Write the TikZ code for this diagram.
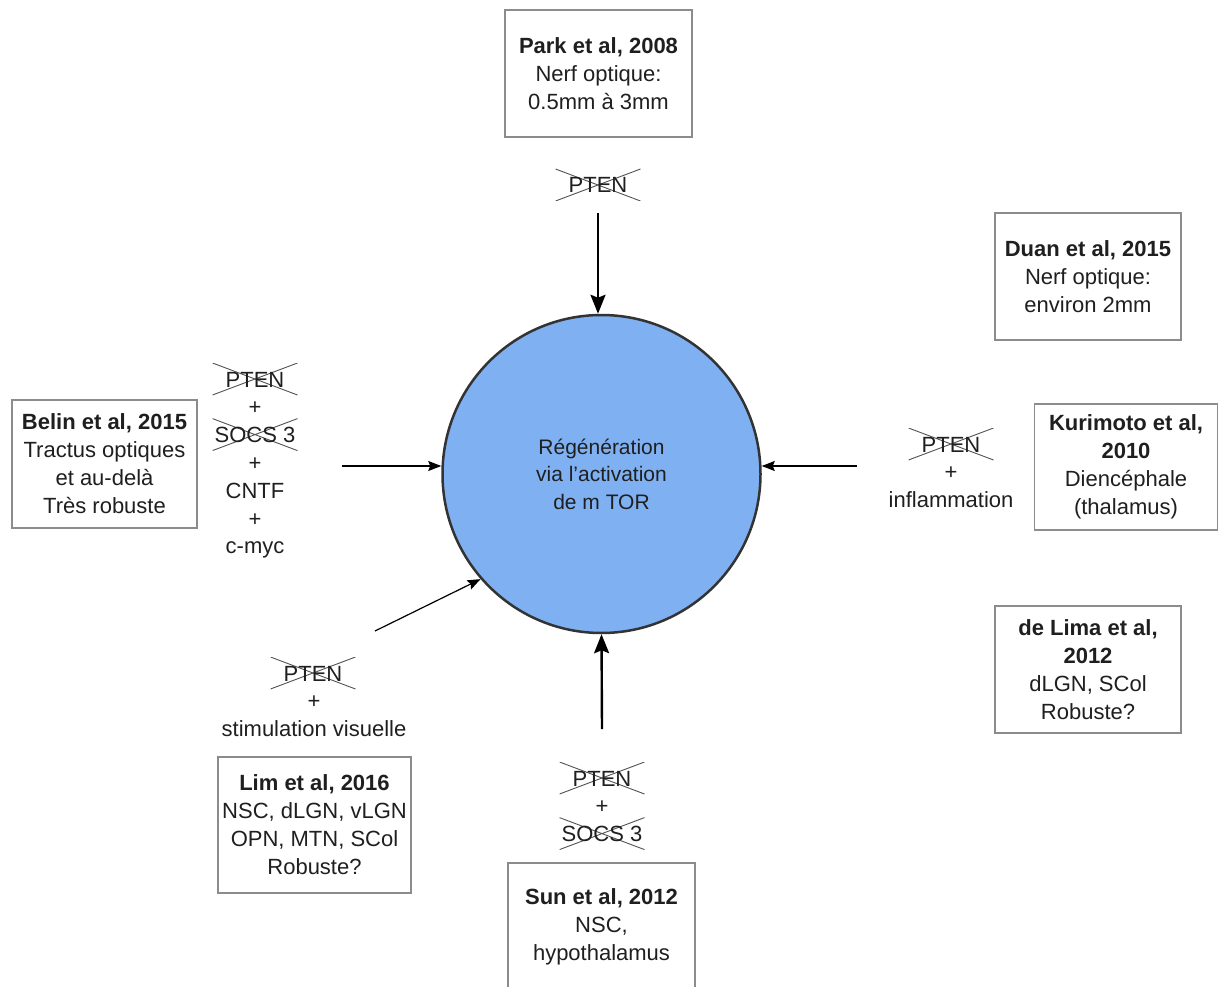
\documentclass[tikz,border=0pt]{standalone}
\usepackage{fontspec}
\setmainfont{Liberation Sans}
\usetikzlibrary{arrows.meta}
\usetikzlibrary{positioning}
\definecolor{mtorblue}{HTML}{7FB1F2}
\definecolor{boxgray}{HTML}{8C8C8C}
\definecolor{rimgray}{HTML}{333333}
\definecolor{inkgray}{HTML}{1F1F1F}

\tikzset{
  ref/.style={draw=boxgray, line width=1.5, fill=white, align=center, inner sep=0,
    text=inkgray, font=\fontsize{22}{28}\selectfont},
  lbl/.style={inner sep=0, text=inkgray, font=\fontsize{22}{28}\selectfont,
    text height=16pt, text depth=0pt},
  crossed/.style={lbl, minimum width=85, minimum height=32,
    path picture={\draw[rimgray!85, line width=0.9]
      (path picture bounding box.south west) -- (path picture bounding box.north east)
      (path picture bounding box.north west) -- (path picture bounding box.south east);}},
  bigarrow/.style={-{Stealth[length=19, width=15, inset=3]}, line width=2.4},
  smallarrow/.style={-{Stealth[length=13, width=10, inset=2]}, line width=1.2},
}

\begin{document}
\begin{tikzpicture}[x=1pt, y=-1pt]

    \useasboundingbox (0,0) rectangle (1218,987);
    \clip (0,0) rectangle (1218,987);

    % centre
    \node[circle, minimum size=318, fill=mtorblue, draw=rimgray, line width=2.5,
      align=center, text=inkgray, font=\fontsize{21}{27.5}\selectfont] (mtor) at (601.5,474)
      {R\'eg\'en\'eration\\via l'activation\\de m TOR};

    % references
    \node[ref, minimum width=187, minimum height=127] (park) at (598.5,73.5)
      {\textbf{Park et al, 2008}\\Nerf optique:\\0.5mm \`a 3mm};
    \node[ref, minimum width=186, minimum height=127] (duan) at (1088,276.5)
      {\textbf{Duan et al, 2015}\\Nerf optique:\\environ 2mm};
    \node[ref, minimum width=185, minimum height=128] (belin) at (104.5,464)
      {\textbf{Belin et al, 2015}\\Tractus optiques\\et au-del\`a\\Tr\`es robuste};
    \node[ref, minimum width=183, minimum height=126] (kuri) at (1126,467)
      {\textbf{Kurimoto et al,}\\\textbf{2010}\\Dienc\'ephale\\(thalamus)};
    \node[ref, minimum width=186, minimum height=127] (lima) at (1088,669.5)
      {\textbf{de Lima et al,}\\\textbf{2012}\\dLGN, SCol\\Robuste?};
    \node[ref, minimum width=193, minimum height=136] (lim) at (314.5,825)
      {\textbf{Lim et al, 2016}\\NSC, dLGN, vLGN\\OPN, MTN, SCol\\Robuste?};
    \node[ref, minimum width=187, minimum height=128] (sun) at (601.5,927)
      {\textbf{Sun et al, 2012}\\NSC,\\hypothalamus};

    % top
    \node[crossed] (ptenT) at (598,185) {PTEN};
    \coordinate (fromT) at (598,213);
    \draw[bigarrow] (fromT) -- (fromT |- mtor.north);

    % left
    \node[crossed] (ptenL) at (255,379) {PTEN};
    \node[lbl] (plusL1) at (255,406.8) {+};
    \node[crossed] (socsL) at (255,434.6) {SOCS 3};
    \node[lbl] (plusL2) at (255,462.4) {+};
    \node[lbl] (cntf) at (255,490.2) {CNTF};
    \node[lbl] (plusL3) at (255,518) {+};
    \node[lbl] (cmyc) at (255,545.8) {c-myc};
    \coordinate (fromL) at (342,466);
    \draw[smallarrow] (fromL) -- (fromL -| mtor.west);

    % right
    \node[crossed] (ptenR) at (951,444) {PTEN};
    \node[lbl] (plusR) at (951,471.8) {+};
    \node[lbl] (infl) at (951,499.6) {inflammation};
    \coordinate (fromR) at (857,466);
    \draw[smallarrow] (fromR) -- (fromR -| mtor.east);

    % lower left
    \node[crossed] (ptenLL) at (313,673) {PTEN};
    \node[lbl] (plusLL) at (314,700.8) {+};
    \node[lbl] (stim) at (314,728.6) {stimulation visuelle};
    \coordinate (fromLL) at (375,631);
    \draw[smallarrow] (fromLL) -- (mtor.221);

    % bottom
    \node[crossed] (ptenB) at (602,778) {PTEN};
    \node[lbl] (plusB) at (602,805.8) {+};
    \node[crossed] (socsB) at (602,833.6) {SOCS 3};
    \coordinate (fromB) at (602,729);
    \draw[bigarrow] (fromB) -- (mtor.south);

\end{tikzpicture}
\end{document}
